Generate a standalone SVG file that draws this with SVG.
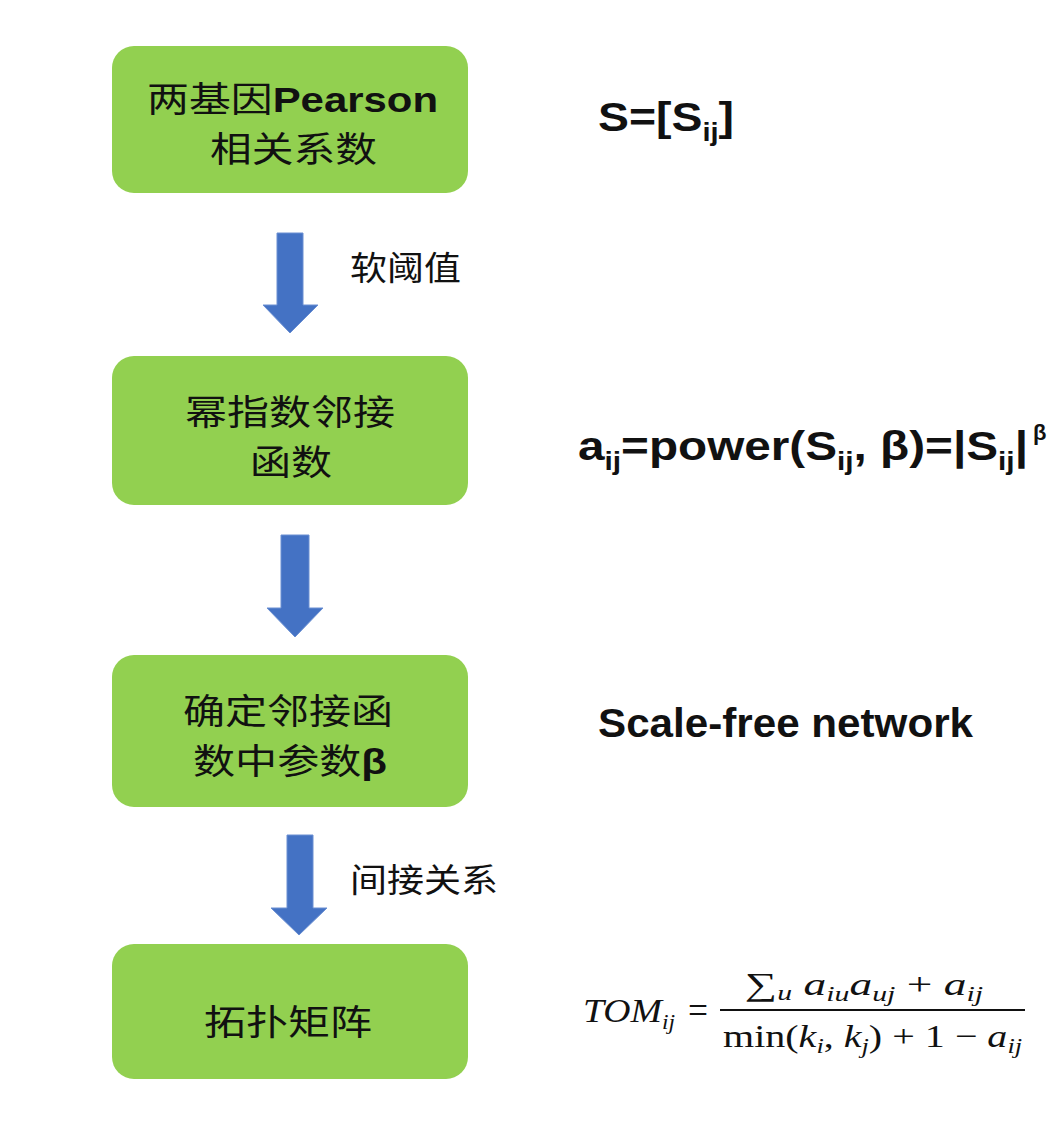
<svg xmlns="http://www.w3.org/2000/svg" width="1051" height="1145" viewBox="0 0 1051 1145">
<style>
.box{fill:#92D050;}
.arr{fill:#4472C4;stroke:#6a8fd2;stroke-width:1;}
.cn{font-family:"Noto Sans CJK SC","Noto Sans CJK JP",sans-serif;font-size:35px;fill:#111;}
.lb{font-family:"Noto Sans CJK SC","Noto Sans CJK JP",sans-serif;font-size:33px;fill:#111;}
.en{font-family:"Liberation Sans",Arial,sans-serif;font-weight:bold;fill:#111;}
.rt{font-family:"Liberation Sans",Arial,sans-serif;font-weight:bold;font-size:40px;fill:#111;}
.sub{font-size:25px;}
.m{font-family:"Liberation Serif","DejaVu Serif",serif;font-size:32px;fill:#111;}
.it{font-style:italic;}
.sb{font-size:21px;}
</style>
<rect width="1051" height="1145" fill="#ffffff"/>

<g id="connectors">
  <polygon class="arr" points="277,233 303,233 303,305 318,305 290,333 263,305 277,305"/>
  <polygon class="arr" points="281,535 309,535 309,608 323,608 295,637 267,608 281,608"/>
  <polygon class="arr" points="287,835 313,835 313,908 327,908 299,935 271,908 287,908"/>
  <text class="lb" x="350" y="280" textLength="111" lengthAdjust="spacingAndGlyphs">软阈值</text>
  <text class="lb" x="350" y="892" textLength="148" lengthAdjust="spacingAndGlyphs">间接关系</text>
</g>

<g id="node1">
  <rect class="box" x="112" y="46" width="356" height="147" rx="22"/>
  <text class="cn" x="147" y="112" textLength="291" lengthAdjust="spacingAndGlyphs">两基因<tspan class="en">Pearson</tspan></text>
  <text class="cn" x="210" y="162" textLength="167" lengthAdjust="spacingAndGlyphs">相关系数</text>
</g>

<g id="node2">
  <rect class="box" x="112" y="356" width="356" height="149" rx="22"/>
  <text class="cn" x="185" y="425" textLength="210" lengthAdjust="spacingAndGlyphs">幂指数邻接</text>
  <text class="cn" x="250" y="475" textLength="82" lengthAdjust="spacingAndGlyphs">函数</text>
</g>

<g id="node3">
  <rect class="box" x="112" y="655" width="356" height="152" rx="22"/>
  <text class="cn" x="183" y="724" textLength="210" lengthAdjust="spacingAndGlyphs">确定邻接函</text>
  <text class="cn" x="193" y="774" textLength="194" lengthAdjust="spacingAndGlyphs">数中参数<tspan class="en">β</tspan></text>
</g>

<g id="node4">
  <rect class="box" x="112" y="944" width="356" height="135" rx="22"/>
  <text class="cn" x="204" y="1035" textLength="168" lengthAdjust="spacingAndGlyphs">拓扑矩阵</text>
</g>

<g id="formulas">
  <text class="rt" x="598" y="131" textLength="136" lengthAdjust="spacingAndGlyphs">S=[S<tspan class="sub" dy="10">ij</tspan><tspan dy="-10">]</tspan></text>
  <text class="rt" x="578" y="460" textLength="450" lengthAdjust="spacingAndGlyphs">a<tspan class="sub" dy="10">ij</tspan><tspan dy="-10">=power(S</tspan><tspan class="sub" dy="10">ij</tspan><tspan dy="-10">, β)=|S</tspan><tspan class="sub" dy="10">ij</tspan><tspan dy="-10">|</tspan></text>
  <text class="rt" x="1033" y="440" style="font-size:22px">β</text>
  <text class="rt" x="598" y="737" textLength="375" lengthAdjust="spacingAndGlyphs">Scale-free network</text>

  <text class="m it" x="583" y="1022" textLength="92" lengthAdjust="spacingAndGlyphs" style="font-size:34px">TOM<tspan class="sb" dy="7">ij</tspan></text>
  <text class="m" x="688" y="1023" textLength="20" lengthAdjust="spacingAndGlyphs" style="font-size:38px">=</text>
  <line x1="720" y1="1010" x2="1025" y2="1010" stroke="#111" stroke-width="2"/>
  <text class="m" x="745" y="995" textLength="238" lengthAdjust="spacingAndGlyphs">∑<tspan class="sb it" dy="5">u</tspan><tspan dy="-5"> </tspan><tspan class="it">a</tspan><tspan class="sb it" dy="6">iu</tspan><tspan class="it" dy="-6">a</tspan><tspan class="sb it" dy="6">uj</tspan><tspan dy="-6"> + </tspan><tspan class="it">a</tspan><tspan class="sb it" dy="6">ij</tspan></text>
  <text class="m" x="723" y="1047" textLength="299" lengthAdjust="spacingAndGlyphs">min(<tspan class="it">k</tspan><tspan class="sb it" dy="6">i</tspan><tspan dy="-6">, </tspan><tspan class="it">k</tspan><tspan class="sb it" dy="6">j</tspan><tspan dy="-6">) + 1 − </tspan><tspan class="it">a</tspan><tspan class="sb it" dy="6">ij</tspan></text>
</g>
</svg>
